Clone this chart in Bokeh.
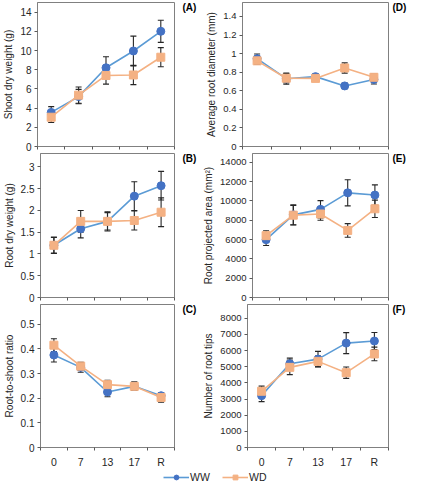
import numpy as np
from bokeh.plotting import figure
from bokeh.models import (FixedTicker, NumeralTickFormatter, Whisker, TeeHead,
                          ColumnDataSource, Range1d, Label, Legend, LegendItem)
from bokeh.layouts import column, row
from bokeh.embed import file_html
from bokeh.resources import INLINE

# ---------------- data ----------------
stages = ["0", "7", "13", "17", "R"]
series_names = ["WW", "WD"]

shoot_ww = [3.55, 5.2, 8.2, 9.95, 12.0]
shoot_ww_se = [0.6, 0.75, 1.15, 1.55, 1.15]
shoot_wd = [3.05, 5.35, 7.4, 7.45, 9.3]
shoot_wd_se = [0.55, 0.85, 0.9, 1.0, 1.0]

root_ww = [1.2, 1.58, 1.75, 2.33, 2.57]
root_ww_se = [0.18, 0.21, 0.22, 0.33, 0.33]
root_wd = [1.2, 1.75, 1.75, 1.77, 1.96]
root_wd_se = [0.19, 0.25, 0.2, 0.22, 0.33]

ratio_ww = [0.375, 0.325, 0.225, 0.248, 0.21]
ratio_ww_se = [0.028, 0.02, 0.019, 0.017, 0.012]
ratio_wd = [0.415, 0.33, 0.255, 0.248, 0.203]
ratio_wd_se = [0.026, 0.016, 0.018, 0.017, 0.019]

diam_ww = [0.945, 0.73, 0.752, 0.652, 0.722]
diam_ww_se = [0.05, 0.06, 0.03, 0.03, 0.05]
diam_wd = [0.922, 0.735, 0.733, 0.845, 0.745]
diam_wd_se = [0.035, 0.05, 0.025, 0.055, 0.035]

area_ww = [5980, 8550, 9120, 10830, 10600]
area_ww_se = [600, 1050, 900, 1350, 1050]
area_wd = [6400, 8520, 8640, 6940, 9180]
area_wd_se = [500, 1000, 650, 700, 900]

tips_ww = [3210, 5180, 5470, 6460, 6590]
tips_ww_se = [370, 350, 480, 650, 530]
tips_wd = [3480, 4960, 5330, 4630, 5790]
tips_wd_se = [320, 450, 330, 350, 420]

y_labels = ["Shoot dry weight (g)", "Root dry weight (g)", "Root-to-shoot ratio",
            "Average root diameter (mm)", "Root projected area (mm\u00b2)", "Number of root tips"]
panel_tags = ["(A)", "(B)", "(C)", "(D)", "(E)", "(F)"]

shoot_ticks = [0, 2, 4, 6, 8, 10, 12, 14]
root_ticks = [0, 0.5, 1, 1.5, 2, 2.5, 3]
ratio_ticks = [0, 0.1, 0.2, 0.3, 0.4, 0.5]
diam_ticks = [0, 0.2, 0.4, 0.6, 0.8, 1.0, 1.2, 1.4]
area_ticks = [0, 2000, 4000, 6000, 8000, 10000, 12000, 14000]
tips_ticks = [0, 1000, 2000, 3000, 4000, 5000, 6000, 7000, 8000]

# ---------------- style ----------------
FONT = "Liberation Sans"
WW_LINE = "#5b9bd5"
WW_MARK = "#4472c4"
WD_COL = "#f4b183"
ERR_COL = "#262626"
FRAME_COL = "#808080"
TXT_COL = "#262626"

FRAME_H = 144


def borders(pos):
    bt = 2 if pos == "top" else 1
    bb = 22 if pos == "bottom" else 6
    return bt, bb


def make_panel(ww, ww_se, wd, wd_se, ylabel, ymax, ticks, fmt, right_col, pos):
    if right_col:
        bl, fw = 42, 146
    else:
        bl, fw = 30, 144
    br = 1
    bt, bb = borders(pos)
    height = bt + FRAME_H + bb
    n = len(stages)
    xs = np.arange(n) + 0.5
    p = figure(width=bl + fw + br, height=height, toolbar_location=None, output_backend="svg",
               x_range=Range1d(0, n), y_range=Range1d(0, ymax),
               min_border_left=bl, min_border_right=br, min_border_top=bt, min_border_bottom=bb)
    p.grid.visible = False
    p.outline_line_color = FRAME_COL
    p.outline_line_width = 1
    p.background_fill_color = "white"
    p.border_fill_color = "white"

    # x axis: labels at category centres, tick marks at boundaries
    xa = p.xaxis[0]
    bounds = list(np.arange(n + 1).astype(float))
    if pos == "bottom":
        xa.ticker = FixedTicker(ticks=list(xs), minor_ticks=bounds)
        xa.major_label_overrides = {float(x): s for x, s in zip(xs, stages)}
        xa.major_label_text_font_size = "10.5px"
        xa.major_label_standoff = 5
    else:
        xa.ticker = FixedTicker(ticks=[], minor_ticks=bounds)
        xa.major_label_standoff = 0
    xa.major_tick_out = 0
    xa.major_tick_in = 0
    xa.minor_tick_out = 3
    xa.minor_tick_in = 0
    xa.axis_line_color = FRAME_COL
    xa.minor_tick_line_color = "#595959"
    xa.major_label_text_font = FONT
    xa.major_label_text_color = TXT_COL

    ya = p.yaxis[0]
    ya.ticker = FixedTicker(ticks=ticks, minor_ticks=[])
    ya.formatter = NumeralTickFormatter(format=fmt)
    ya.major_tick_out = 3
    ya.major_tick_in = 0
    ya.minor_tick_out = 0
    ya.axis_line_color = FRAME_COL
    ya.major_tick_line_color = "#595959"
    ya.major_label_text_font = FONT
    ya.major_label_text_font_size = "10px" if not right_col else "9.5px"
    ya.major_label_text_color = TXT_COL
    ya.major_label_standoff = 3
    ya.axis_label = ylabel
    ya.axis_label_text_font = FONT
    ya.axis_label_text_font_size = "10px"
    ya.axis_label_text_font_style = "normal"
    ya.axis_label_text_color = TXT_COL
    ya.axis_label_standoff = 3

    # series
    src_ww = ColumnDataSource(dict(x=xs, y=ww, upper=np.array(ww) + np.array(ww_se),
                                   lower=np.array(ww) - np.array(ww_se)))
    src_wd = ColumnDataSource(dict(x=xs, y=wd, upper=np.array(wd) + np.array(wd_se),
                                   lower=np.array(wd) - np.array(wd_se)))
    p.line("x", "y", source=src_ww, line_color=WW_LINE, line_width=1.6)
    p.scatter("x", "y", source=src_ww, marker="circle", size=8,
              fill_color=WW_MARK, line_color=WW_MARK)
    p.line("x", "y", source=src_wd, line_color=WD_COL, line_width=1.6)
    p.scatter("x", "y", source=src_wd, marker="square", size=8,
              fill_color=WD_COL, line_color=WD_COL)
    for src in (src_ww, src_wd):
        p.add_layout(Whisker(base="x", upper="upper", lower="lower", source=src,
                             line_color=ERR_COL, line_width=1.1,
                             upper_head=TeeHead(size=6, line_color=ERR_COL, line_width=1.1),
                             lower_head=TeeHead(size=6, line_color=ERR_COL, line_width=1.1)))
    return p


def make_tag(tag, width, pos, x_off):
    bt, bb = borders(pos)
    t = figure(width=width, height=bt + FRAME_H + bb, toolbar_location=None, output_backend="svg",
               x_range=Range1d(0, 1), y_range=Range1d(0, 1),
               min_border_left=0, min_border_right=0, min_border_top=bt, min_border_bottom=bb,
               outline_line_color=None)
    t.axis.visible = False
    t.grid.visible = False
    t.add_layout(Label(x=0, y=1, x_units="data", y_units="data", x_offset=x_off, y_offset=1,
                       text=tag, text_font=FONT, text_font_size="10px",
                       text_font_style="bold", text_baseline="top", text_align="left",
                       text_color="#000000"))
    return t


pA = make_panel(shoot_ww, shoot_ww_se, shoot_wd, shoot_wd_se, y_labels[0],
                15.0, shoot_ticks, "0", False, "top")
pB = make_panel(root_ww, root_ww_se, root_wd, root_wd_se, y_labels[1],
                3.31, root_ticks, "0.[0]", False, "mid")
pC = make_panel(ratio_ww, ratio_ww_se, ratio_wd, ratio_wd_se, y_labels[2],
                0.58, ratio_ticks, "0.[0]", False, "bottom")
pD = make_panel(diam_ww, diam_ww_se, diam_wd, diam_wd_se, y_labels[3],
                1.55, diam_ticks, "0.[0]", True, "top")
pE = make_panel(area_ww, area_ww_se, area_wd, area_wd_se, y_labels[4],
                14900, area_ticks, "0", True, "mid")
pF = make_panel(tips_ww, tips_ww_se, tips_wd, tips_wd_se, y_labels[5],
                8850, tips_ticks, "0", True, "bottom")

tA = make_tag(panel_tags[0], 25, "top", 7)
tB = make_tag(panel_tags[1], 25, "mid", 7)
tC = make_tag(panel_tags[2], 25, "bottom", 7)
tD = make_tag(panel_tags[3], 20, "top", 3)
tE = make_tag(panel_tags[4], 20, "mid", 3)
tF = make_tag(panel_tags[5], 20, "bottom", 3)

# legend strip
leg = figure(width=409, height=14, toolbar_location=None, output_backend="svg",
             x_range=Range1d(0, 1), y_range=Range1d(0, 1), min_border=0,
             outline_line_color=None)
leg.axis.visible = False
leg.grid.visible = False
l1 = leg.line(x=[np.nan], y=[np.nan], line_color=WW_LINE, line_width=1.6)
s1 = leg.scatter(x=[np.nan], y=[np.nan], marker="circle", size=8,
                 fill_color=WW_MARK, line_color=WW_MARK)
l2 = leg.line(x=[np.nan], y=[np.nan], line_color=WD_COL, line_width=1.6)
s2 = leg.scatter(x=[np.nan], y=[np.nan], marker="square", size=8,
                 fill_color=WD_COL, line_color=WD_COL)
legend = Legend(items=[LegendItem(label=series_names[0], renderers=[l1, s1]),
                       LegendItem(label=series_names[1], renderers=[l2, s2])],
                orientation="horizontal", location=(163, 1),
                border_line_color=None, background_fill_alpha=0,
                padding=0, margin=0, spacing=12, glyph_width=26, glyph_height=12,
                label_text_font=FONT, label_text_font_size="10.5px", label_standoff=1,
                label_height=12, label_text_color=TXT_COL)
leg.add_layout(legend)

layout = column(row(pA, tA, pD, tD), row(pB, tB, pE, tE), row(pC, tC, pF, tF), leg)

open("out.html", "w").write(file_html(layout, INLINE))
